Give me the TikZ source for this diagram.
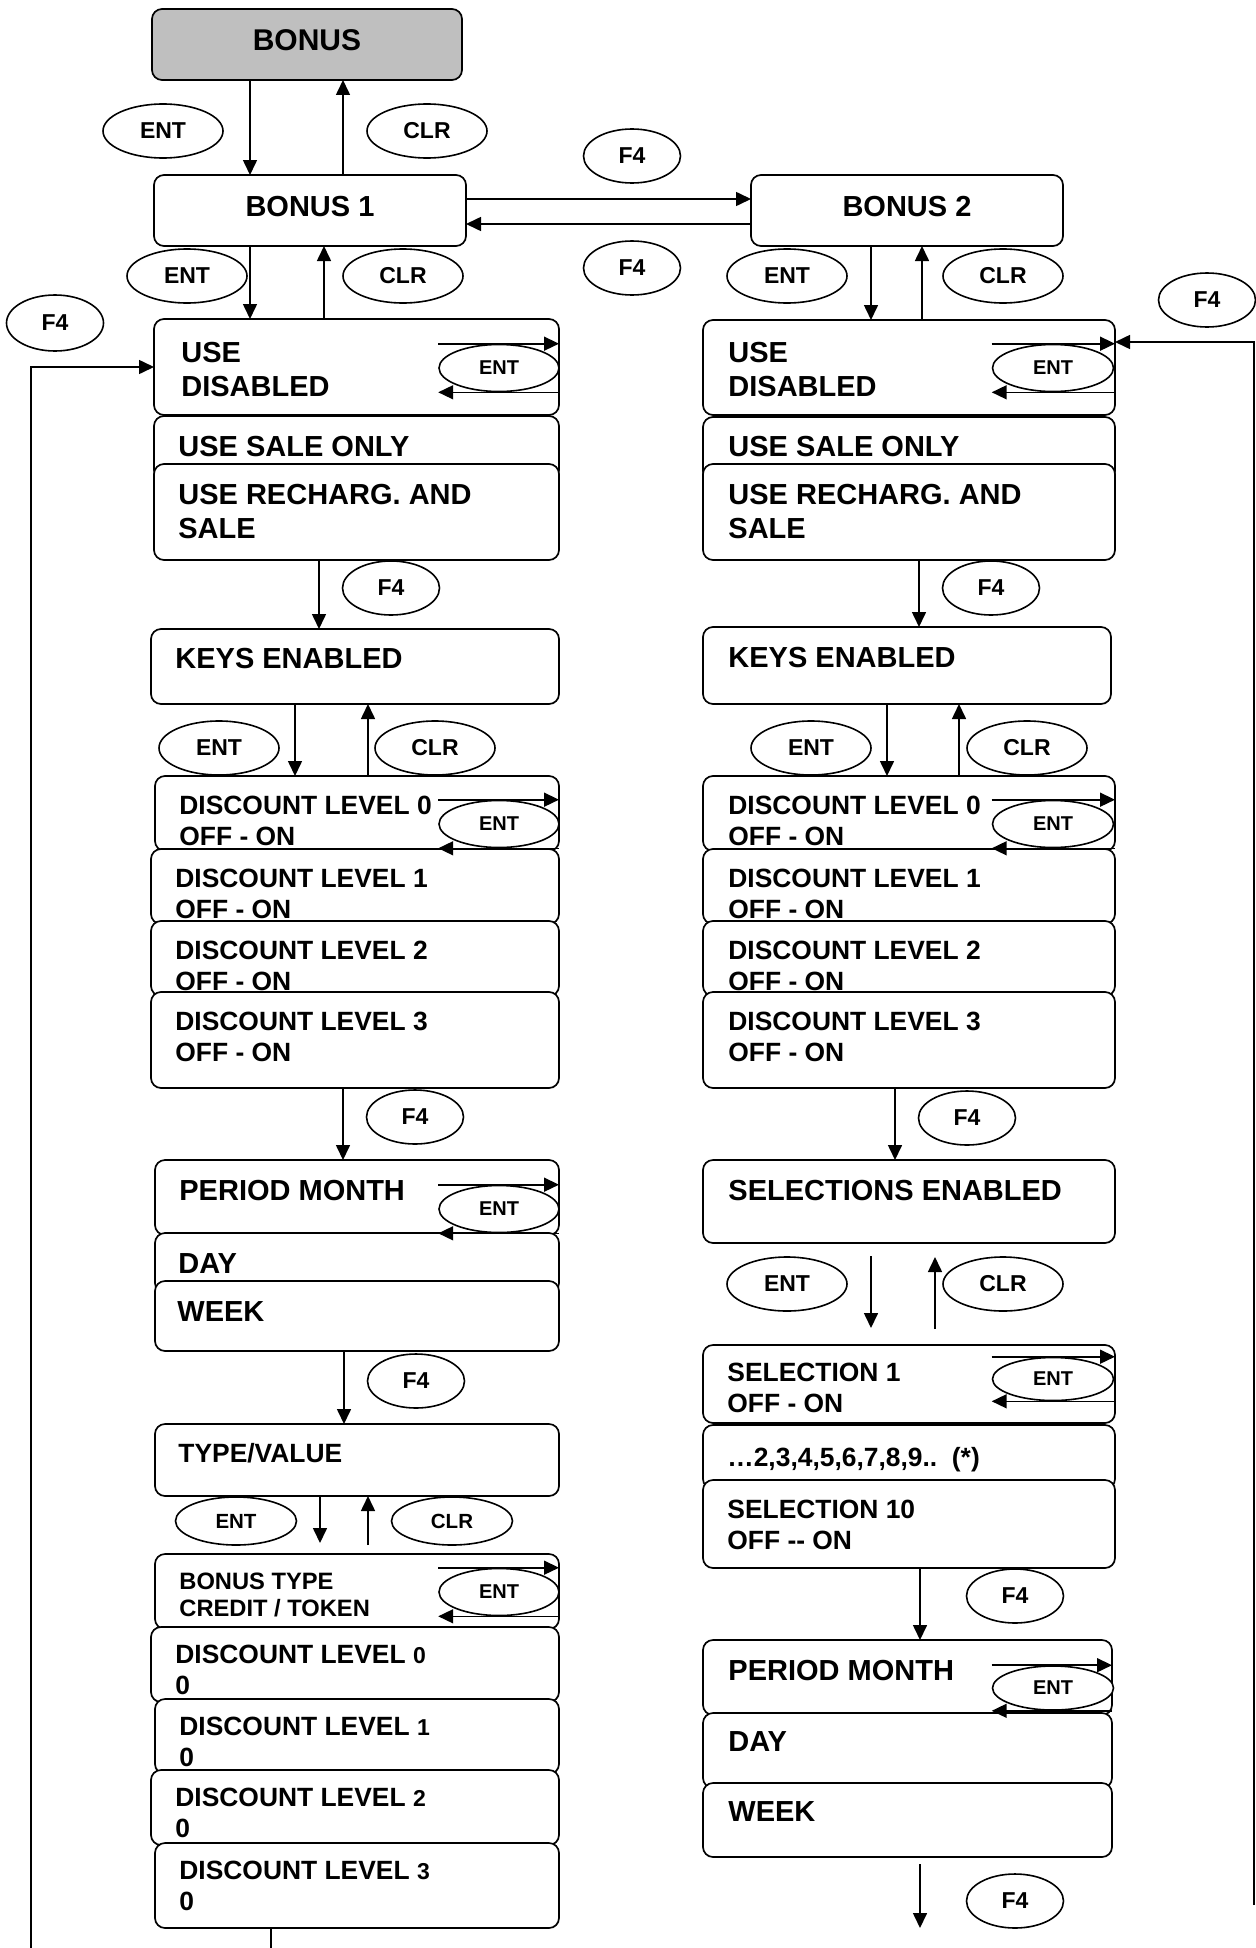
\documentclass[tikz,border=0pt]{standalone}
\usepackage{fontspec}
\setmainfont{Liberation Sans}
\usetikzlibrary{arrows.meta,shapes.geometric}

\newcommand{\txtL}{\fontsize{14.5pt}{17pt}\selectfont\bfseries}
\newcommand{\txtM}{\fontsize{13.2pt}{15.5pt}\selectfont\bfseries}
\newcommand{\txtS}{\fontsize{11.85pt}{13.5pt}\selectfont\bfseries}
\newcommand{\dig}[1]{{\fontsize{11.5pt}{13pt}\selectfont #1}}

\begin{document}
\begin{tikzpicture}[x=0.5pt, y=-0.5pt,
    box/.style={draw, rounded corners=5pt, fill=white, line width=0.85pt,
      inner sep=0pt, outer sep=0pt, anchor=north west},
    wh/.style 2 args={minimum width=(#1)*0.5pt, minimum height=(#2)*0.5pt},
    txt/.style={anchor=base west, inner sep=0pt, align=left},
    btn/.style={ellipse, draw, fill=white, line width=0.8pt, inner sep=0pt,
      minimum width=60pt, minimum height=27pt, font=\fontsize{11.5pt}{13pt}\selectfont\bfseries},
    fkey/.style={btn, minimum width=48.5pt},
    loopbtn/.style={btn, minimum width=60pt, minimum height=23.5pt,
      font=\fontsize{10pt}{12pt}\selectfont\bfseries},
    arr/.style={line width=0.8pt, -{Triangle[length=7.5pt,width=7pt]}},
    ln/.style={line width=0.8pt},
    ox/.style={xshift=(#1)*0.5pt},
    oy/.style={yshift=-(#1)*0.5pt}
  ]
  \useasboundingbox (0,0) rectangle (1256,1948);

  % head
  \node[box, wh={310}{71}, fill=black!25, text depth=4.5pt, font=\fontsize{15pt}{17pt}\selectfont\bfseries] (bonus) at (152,9) {BONUS};
  \node[box, wh={312}{71}, text depth=4pt, font=\txtL] (b1) at (154,175) {BONUS 1};
  \node[box, wh={312}{71}, text depth=4pt, font=\txtL] (b2) at (751,175) {BONUS 2};

  % left column (multi-line texts are placed by their last baseline)
  \node[box, wh={405}{96}] (lu1) at (154,319) {};
  \node[txt, font=\txtL] (lut1) at (181,396) {USE\\DISABLED};
  \node[box, wh={405}{64}] (lu2) at (154,416) {};
  \node[txt, font=\txtL] (lut2) at (178,456) {USE SALE ONLY};
  \node[box, wh={405}{96}] (lu3) at (154,464) {};
  \node[txt, font=\txtL] (lut3) at (178,538) {USE RECHARG. AND\\SALE};

  \node[box, wh={408}{75}] (lkeys) at (151,629) {};
  \node[txt, font=\txtL] (lkeyst) at (175,668) {KEYS ENABLED};

  \foreach \n/\x/\y/\h in {0/155/776/75, 1/151/849/75, 2/151/921/75, 3/151/992/96} {
    \node[box, wh={559-\x}{\h}] (ld\n) at (\x,\y) {};
    \node[txt, font=\txtM] (ldt\n) at (\x+24,\y+69) {DISCOUNT LEVEL \n\\OFF - ON};
  }

  \node[box, wh={404}{75}] (lp1) at (155,1160) {};
  \node[txt, font=\txtL] (lpt1) at (179,1200) {PERIOD MONTH};
  \node[box, wh={404}{60}] (lp2) at (155,1233) {};
  \node[txt, font=\txtL] (lpt2) at (178,1273) {DAY};
  \node[box, wh={404}{70}] (lp3) at (155,1281) {};
  \node[txt, font=\txtL] (lpt3) at (177,1321) {WEEK};

  \node[box, wh={404}{72}] (ltype) at (155,1424) {};
  \node[txt, font=\txtM] (ltypet) at (178,1462) {TYPE/VALUE};

  \node[box, wh={404}{75}] (lb0) at (155,1554) {};
  \node[txt, font=\txtS] (lbt0) at (179,1616) {BONUS TYPE\\CREDIT / TOKEN};
  \foreach \n/\x/\y/\h in {0/151/1627/75, 1/155/1699/75, 2/151/1770/75, 3/155/1843/85} {
    \node[box, wh={559-\x}{\h}] (lb\n x) at (\x,\y) {};
    \node[txt, font=\txtM] (lbt\n x) at (\x+24,\y+67) {DISCOUNT LEVEL \dig{\n}\\0};
  }

  % right column
  \node[box, wh={412}{95}] (ru1) at (703,320) {};
  \node[txt, font=\txtL] (rut1) at (728,396) {USE\\DISABLED};
  \node[box, wh={412}{64}] (ru2) at (703,417) {};
  \node[txt, font=\txtL] (rut2) at (728,456) {USE SALE ONLY};
  \node[box, wh={412}{96}] (ru3) at (703,464) {};
  \node[txt, font=\txtL] (rut3) at (728,538) {USE RECHARG. AND\\SALE};

  \node[box, wh={408}{77}] (rkeys) at (703,627) {};
  \node[txt, font=\txtL] (rkeyst) at (728,667) {KEYS ENABLED};

  \foreach \n/\y/\h in {0/776/75, 1/849/75, 2/921/75, 3/992/96} {
    \node[box, wh={412}{\h}] (rd\n) at (703,\y) {};
    \node[txt, font=\txtM] (rdt\n) at (728,\y+69) {DISCOUNT LEVEL \n\\OFF - ON};
  }

  \node[box, wh={412}{83}] (rsel) at (703,1160) {};
  \node[txt, font=\txtL] (rselt) at (728,1200) {SELECTIONS ENABLED};

  \node[box, wh={412}{78}] (rs1) at (703,1345) {};
  \node[txt, font=\txtM] (rst1) at (727,1412) {SELECTION 1\\OFF - ON};
  \node[box, wh={412}{64}] (rs2) at (703,1425) {};
  \node[txt, font=\txtM] (rst2) at (727,1466) {…2,3,4,5,6,7,8,9..\ \ (*)};
  \node[box, wh={412}{88}] (rs3) at (703,1480) {};
  \node[txt, font=\txtM] (rst3) at (727,1549) {SELECTION 10\\OFF -{}- ON};

  \node[box, wh={409}{75}] (rp1) at (703,1640) {};
  \node[txt, font=\txtL] (rpt1) at (728,1680) {PERIOD MONTH};
  \node[box, wh={409}{75}] (rp2) at (703,1713) {};
  \node[txt, font=\txtL] (rpt2) at (728,1751) {DAY};
  \node[box, wh={409}{74}] (rp3) at (703,1783) {};
  \node[txt, font=\txtL] (rpt3) at (728,1821) {WEEK};

  % keys
  \node[btn] (e1) at (163,131) {ENT};
  \node[btn] (c1) at (427,131) {CLR};
  \node[fkey] (f1) at (632,156) {F4};
  \node[fkey] (f2) at (632,268) {F4};
  \node[btn] (e2) at (187,276) {ENT};
  \node[btn] (c2) at (403,276) {CLR};
  \node[btn] (e3) at (787,276) {ENT};
  \node[btn] (c3) at (1003,276) {CLR};
  \node[fkey, minimum height=28pt] (f3) at (55,323) {F4};
  \node[fkey] (f4) at (1207,300) {F4};
  \node[fkey] (f5) at (391,588) {F4};
  \node[fkey] (f6) at (991,588) {F4};
  \node[btn] (e4) at (219,748) {ENT};
  \node[btn] (c4) at (435,748) {CLR};
  \node[btn] (e5) at (811,748) {ENT};
  \node[btn] (c5) at (1027,748) {CLR};
  \node[fkey] (f7) at (415,1117) {F4};
  \node[fkey] (f8) at (967,1118) {F4};
  \node[btn] (e6) at (787,1284) {ENT};
  \node[btn] (c6) at (1003,1284) {CLR};
  \node[fkey] (f9) at (416,1381) {F4};
  \node[btn, minimum width=60.5pt, minimum height=24pt, font=\fontsize{10.25pt}{12pt}\selectfont\bfseries] (e7) at (236,1521) {ENT};
  \node[btn, minimum width=60.5pt, minimum height=24pt, font=\fontsize{10.25pt}{12pt}\selectfont\bfseries] (c7) at (452,1521) {CLR};
  \node[fkey] (f10) at (1015,1596) {F4};
  \node[fkey] (f11) at (1015,1901) {F4};

  \node[loopbtn] (lk1) at (499,368) {ENT};
  \node[loopbtn] (lk2) at (499,824) {ENT};
  \node[loopbtn] (lk3) at (499,1209) {ENT};
  \node[loopbtn] (lk4) at (499,1592) {ENT};
  \node[loopbtn, minimum width=60.5pt] (rk1) at (1053,368) {ENT};
  \node[loopbtn, minimum width=60.5pt] (rk2) at (1053,824) {ENT};
  \node[loopbtn, minimum width=60.5pt, minimum height=21.5pt] (rk3) at (1053,1379) {ENT};
  \node[loopbtn, minimum width=60.5pt, minimum height=22pt] (rk4) at (1053,1688) {ENT};

  \foreach \k/\b in {lk1/lu1, lk2/ld0, lk3/lp1, lk4/lb0, rk1/ru1, rk2/rd0, rk3/rs1, rk4/rp1} {
    \draw[arr] (\k.west |- \k.north) -- (\k.north -| \b.east);
    \draw[arr] (\k.south -| \b.east) -- (\k.west |- \k.south);
  }

  % connectors
  \draw[arr] ([ox=98]bonus.south west) -- ([ox=98]bonus.south west |- b1.north);
  \draw[arr] ([ox=189]b1.north west) -- ([ox=189]b1.north west |- bonus.south);
  \draw[arr] ([oy=24]b1.north east) -- ([oy=24]b1.north east -| b2.west);
  \draw[arr] ([oy=49]b2.north west) -- ([oy=49]b2.north west -| b1.east);
  \draw[arr] ([ox=96]b1.south west) -- ([ox=96]b1.south west |- lu1.north);
  \draw[arr] ([ox=170]lu1.north west) -- ([ox=170]lu1.north west |- b1.south);
  \draw[arr] ([ox=120]b2.south west) -- ([ox=120]b2.south west |- ru1.north);
  \draw[arr] ([ox=219]ru1.north west) -- ([ox=219]ru1.north west |- b2.south);

  \draw[arr] ([ox=165]lu3.south west) -- ([ox=165]lu3.south west |- lkeys.north);
  \draw[arr] ([ox=216]ru3.south west) -- ([ox=216]ru3.south west |- rkeys.north);
  \draw[arr] ([ox=144]lkeys.south west) -- ([ox=144]lkeys.south west |- ld0.north);
  \draw[arr] ([ox=217]ld1.north west |- ld0.north) -- ([ox=217]lkeys.south west);
  \draw[arr] ([ox=184]rkeys.south west) -- ([ox=184]rkeys.south west |- rd0.north);
  \draw[arr] ([ox=256]rd0.north west) -- ([ox=256]rd0.north west |- rkeys.south);
  \draw[arr] ([ox=192]ld3.south west) -- ([ox=192]ld3.south west |- lp1.north);
  \draw[arr] ([ox=192]rd3.south west) -- ([ox=192]rd3.south west |- rsel.north);
  \draw[arr] ([ox=168,oy=13]rsel.south west) -- ([ox=168,oy=-17]rsel.south west |- rs1.north);
  \draw[arr] ([ox=232,oy=-16]rsel.south west |- rs1.north) -- ([ox=232,oy=14]rsel.south west);
  \draw[arr] ([ox=189]lp3.south west) -- ([ox=189]lp3.south west |- ltype.north);
  \draw[arr] ([ox=165]ltype.south west) -- ([ox=165,oy=-11]ltype.south west |- lb0.north);
  \draw[arr] ([ox=213,oy=-9]ltype.south west |- lb0.north) -- ([ox=213]ltype.south west);
  \draw[arr] ([ox=217]rs3.south west) -- ([ox=217]rs3.south west |- rp1.north);

  % returns
  \coordinate (rpend) at (920,1928);
  \draw[arr] ([oy=7]rp3.south -| rpend) -- (rpend);
  \coordinate (bend) at (271,1948);
  \draw[ln] (lb3x.south -| bend) -- (bend);
  \coordinate (lend) at (31,1948);
  \draw[arr] (lend) |- (lu1.west);
  \coordinate (rend) at (1254,1905);
  \draw[arr] (rend) |- ([oy=22]ru1.north east);
\end{tikzpicture}
\end{document}
